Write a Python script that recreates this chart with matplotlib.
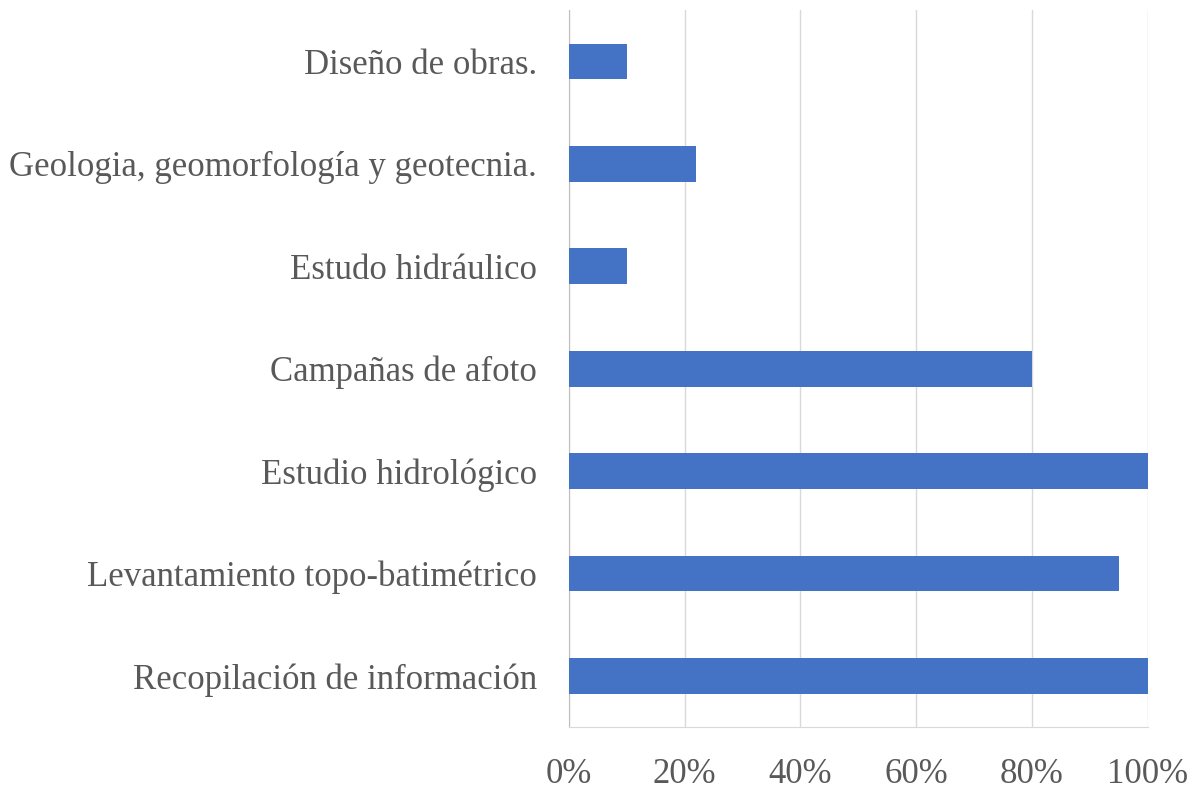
import matplotlib
matplotlib.use('Agg')
import matplotlib.pyplot as plt
from matplotlib.ticker import PercentFormatter

# Datos (de abajo hacia arriba)
actividades = ['Recopilación de información',
               'Levantamiento topo-batimétrico',
               'Estudio hidrológico',
               'Campañas de afoto',
               'Estudo hidráulico',
               'Geologia, geomorfología y geotecnia.',
               'Diseño de obras.']
porcentajes = [100, 95, 100, 80, 10, 22, 10]
ticks_x = [0, 20, 40, 60, 80, 100]

TEXTO = '#595959'
plt.rcParams['font.family'] = ['Liberation Serif', 'DejaVu Serif']

fig = plt.figure(figsize=(11.95, 7.92), dpi=100)
ax = fig.add_axes([0.476, 0.082, 0.4845, 0.905])

ax.barh(range(len(actividades)), porcentajes, height=0.35, color='#4472C4', zorder=3)
ax.set_yticks(range(len(actividades)))
ax.set_yticklabels(actividades)
ax.set_ylim(-0.5, len(actividades) - 0.5)
ax.set_xlim(0, 100)
ax.set_xticks(ticks_x)
ax.xaxis.set_major_formatter(PercentFormatter(decimals=0))

ax.grid(axis='x', color='#D9D9D9', linewidth=1, zorder=0)
for s in ['top', 'right']:
    ax.spines[s].set_visible(False)
ax.spines['left'].set_color('#BFBFBF')
ax.spines['bottom'].set_color('#D9D9D9')
ax.tick_params(axis='both', length=0, labelsize=25, colors=TEXTO)
ax.tick_params(axis='y', pad=23)
ax.tick_params(axis='x', pad=22)

fig.savefig('out.png', dpi=100)
